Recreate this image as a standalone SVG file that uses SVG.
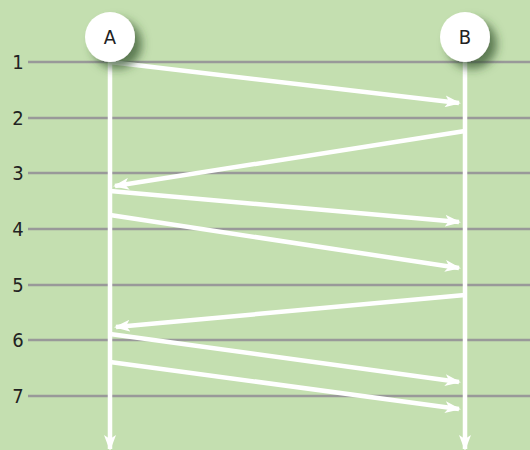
<svg xmlns="http://www.w3.org/2000/svg" width="530" height="450" viewBox="0 0 530 450">
<style>
.grid{stroke:#999999;stroke-width:2.5}
.num{font-family:"DejaVu Sans Condensed","DejaVu Sans",sans-serif;font-size:20px;fill:#222;text-anchor:middle}
.life{stroke:#ffffff;stroke-width:4.5;fill:none}
.msg{stroke:#ffffff;stroke-width:4.5;fill:none;marker-end:url(#ah)}
.node{fill:#ffffff;filter:url(#sh)}
.lbl{font-family:"DejaVu Sans Condensed","DejaVu Sans",sans-serif;font-size:20px;fill:#222;text-anchor:middle}
</style>
<defs>
<marker id="ah" viewBox="0 0 16 12" refX="14" refY="6" markerWidth="16" markerHeight="12" markerUnits="userSpaceOnUse" orient="auto">
<path d="M0,0 L16,6 L0,12 L4,6 z" fill="#ffffff"/>
</marker>
<filter id="sh" x="-50%" y="-50%" width="200%" height="200%">
<feDropShadow dx="7" dy="7" stdDeviation="5" flood-color="#2f4f28" flood-opacity="0.7"/>
</filter>
</defs>
<rect width="530" height="450" fill="#c4dfb0"/>
<g id="grid">
<line class="grid" x1="28" y1="62" x2="530" y2="62"/>
<line class="grid" x1="28" y1="118" x2="530" y2="118"/>
<line class="grid" x1="28" y1="173" x2="530" y2="173"/>
<line class="grid" x1="28" y1="229" x2="530" y2="229"/>
<line class="grid" x1="28" y1="285" x2="530" y2="285"/>
<line class="grid" x1="28" y1="340" x2="530" y2="340"/>
<line class="grid" x1="28" y1="396" x2="530" y2="396"/>
<text class="num" x="18" y="69">1</text>
<text class="num" x="18" y="125">2</text>
<text class="num" x="18" y="180">3</text>
<text class="num" x="18" y="236">4</text>
<text class="num" x="18" y="292">5</text>
<text class="num" x="18" y="347">6</text>
<text class="num" x="18" y="403">7</text>
</g>
<g id="connectors">
<line class="life" x1="110" y1="60" x2="110" y2="449" marker-end="url(#ah)"/>
<line class="life" x1="465" y1="60" x2="465" y2="449" marker-end="url(#ah)"/>
<line class="msg" x1="110" y1="62" x2="459" y2="103"/>
<line class="msg" x1="465" y1="131" x2="115" y2="186"/>
<line class="msg" x1="110" y1="191" x2="459" y2="222"/>
<line class="msg" x1="110" y1="215" x2="459" y2="268"/>
<line class="msg" x1="465" y1="295" x2="116" y2="327"/>
<line class="msg" x1="110" y1="334" x2="459" y2="382"/>
<line class="msg" x1="110" y1="362" x2="459" y2="409"/>
</g>
<g id="A">
<circle class="node" cx="110" cy="37" r="25"/>
<text class="lbl" x="110" y="44">A</text>
</g>
<g id="B">
<circle class="node" cx="465" cy="37" r="25"/>
<text class="lbl" x="465" y="44">B</text>
</g>
</svg>
